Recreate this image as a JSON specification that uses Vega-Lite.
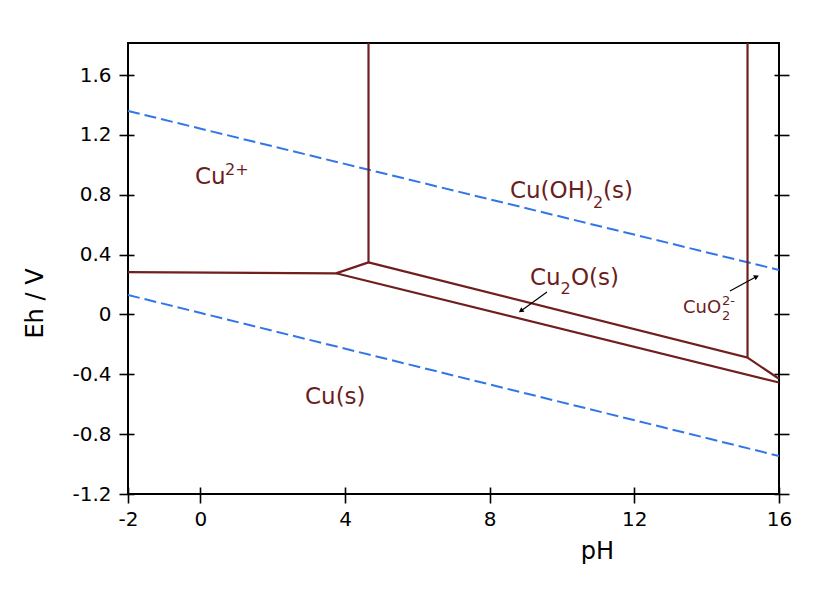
{
  "$schema": "https://vega.github.io/schema/vega-lite/v6.json",
  "width": 651,
  "height": 451,
  "autosize": "none",
  "padding": {"left": 128, "top": 43, "right": 61, "bottom": 105},
  "background": "white",
  "config": {
    "view": {"stroke": "black", "strokeWidth": 2},
    "axis": {
      "labelFont": "DejaVu Sans",
      "labelFontSize": 20,
      "labelColor": "black",
      "tickColor": "black",
      "tickWidth": 1.6,
      "grid": false,
      "domain": false,
      "labelFlush": false,
      "labelOverlap": false,
      "titleFont": "DejaVu Sans",
      "titleFontSize": 24,
      "titleFontWeight": "normal",
      "titleColor": "black"
    }
  },
  "datasets": {
    "water": [
      {"seg": "O2", "order": 1, "pH": -2, "Eh": 1.36},
      {"seg": "O2", "order": 2, "pH": 16, "Eh": 0.297},
      {"seg": "H2", "order": 1, "pH": -2, "Eh": 0.13},
      {"seg": "H2", "order": 2, "pH": 16, "Eh": -0.946}
    ],
    "boundaries": [
      {"seg": "a", "order": 1, "pH": -2, "Eh": 0.283},
      {"seg": "a", "order": 2, "pH": 3.75, "Eh": 0.275},
      {"seg": "a", "order": 3, "pH": 4.65, "Eh": 0.348},
      {"seg": "a", "order": 4, "pH": 4.65, "Eh": 1.814},
      {"seg": "b", "order": 1, "pH": 4.65, "Eh": 0.348},
      {"seg": "b", "order": 2, "pH": 15.13, "Eh": -0.289},
      {"seg": "b", "order": 3, "pH": 15.13, "Eh": 1.814},
      {"seg": "c", "order": 1, "pH": 15.13, "Eh": -0.289},
      {"seg": "c", "order": 2, "pH": 16, "Eh": -0.43},
      {"seg": "d", "order": 1, "pH": 3.75, "Eh": 0.275},
      {"seg": "d", "order": 2, "pH": 16, "Eh": -0.455}
    ],
    "arrows": [
      {"seg": "cu2o", "order": 1, "pH": 9.584, "Eh": 0.15},
      {"seg": "cu2o", "order": 2, "pH": 8.9, "Eh": 0.03},
      {"seg": "cuo2", "order": 1, "pH": 14.644, "Eh": 0.156},
      {"seg": "cuo2", "order": 2, "pH": 15.33, "Eh": 0.247}
    ],
    "head1": [{"pH": 8.88, "Eh": 0.027}],
    "head2": [{"pH": 15.36, "Eh": 0.25}],
    "labels": [
      {"label": "Cu", "pH": -0.148, "Eh": 0.872},
      {"label": "Cu(OH)", "pH": 8.561, "Eh": 0.778},
      {"label": "(s)", "pH": 11.133, "Eh": 0.778},
      {"label": "Cu", "pH": 9.114, "Eh": 0.197},
      {"label": "O(s)", "pH": 10.248, "Eh": 0.197},
      {"label": "Cu(s)", "pH": 2.894, "Eh": -0.599}
    ],
    "scripts": [
      {"label": "2+", "pH": 0.682, "Eh": 0.935},
      {"label": "2", "pH": 10.856, "Eh": 0.711},
      {"label": "2", "pH": 9.96, "Eh": 0.134}
    ],
    "small": [
      {"label": "CuO", "pH": 13.344, "Eh": 0.009}
    ],
    "smallScripts": [
      {"label": "2", "pH": 14.422, "Eh": -0.04},
      {"label": "2-", "pH": 14.422, "Eh": 0.062}
    ]
  },
  "resolve": {"axis": {"y": "independent"}},
  "layer": [
    {
      "data": {"name": "water"},
      "mark": {"type": "line", "color": "#3176e8", "strokeWidth": 2, "strokeDash": [12, 5]},
      "encoding": {
        "x": {
          "field": "pH", "type": "quantitative",
          "scale": {"domain": [-2, 16], "nice": false, "zero": false},
          "axis": {
            "orient": "bottom", "values": [-2, 0, 4, 8, 12, 16],
            "offset": -7, "tickSize": 16, "labelPadding": 6,
            "labelExpr": "datum.value + ''",
            "title": "pH", "titleX": 469, "titleY": 64,
            "titleAlign": "center", "titleBaseline": "middle"
          }
        },
        "y": {
          "field": "Eh", "type": "quantitative",
          "scale": {"domain": [-1.2, 1.814], "nice": false, "zero": false},
          "axis": {
            "orient": "left", "values": [-1.2, -0.8, -0.4, 0, 0.4, 0.8, 1.2, 1.6],
            "offset": -6, "tickSize": 15, "labelPadding": 8,
            "labelExpr": "datum.value + ''",
            "title": "Eh / V", "titleAngle": -90, "titleX": -99, "titleY": 260,
            "titleAlign": "center", "titleBaseline": "middle"
          }
        },
        "detail": {"field": "seg"},
        "order": {"field": "order"}
      }
    },
    {
      "data": {"name": "boundaries"},
      "mark": {"type": "line", "color": "#701e1e", "strokeWidth": 2.2},
      "encoding": {
        "x": {"field": "pH", "type": "quantitative"},
        "y": {
          "field": "Eh", "type": "quantitative",
          "axis": {
            "orient": "right", "values": [-1.2, -0.8, -0.4, 0, 0.4, 0.8, 1.2, 1.6],
            "offset": -5, "tickSize": 15, "labels": false, "title": null
          }
        },
        "detail": {"field": "seg"},
        "order": {"field": "order"}
      }
    },
    {
      "data": {"name": "arrows"},
      "mark": {"type": "line", "color": "black", "strokeWidth": 1.2},
      "encoding": {
        "x": {"field": "pH", "type": "quantitative"},
        "y": {"field": "Eh", "type": "quantitative", "axis": null},
        "detail": {"field": "seg"},
        "order": {"field": "order"}
      }
    },
    {
      "data": {"name": "head1"},
      "mark": {"type": "point", "shape": "triangle", "filled": true, "color": "black", "size": 32, "angle": 235, "opacity": 1},
      "encoding": {
        "x": {"field": "pH", "type": "quantitative"},
        "y": {"field": "Eh", "type": "quantitative", "axis": null}
      }
    },
    {
      "data": {"name": "head2"},
      "mark": {"type": "point", "shape": "triangle", "filled": true, "color": "black", "size": 32, "angle": 62, "opacity": 1},
      "encoding": {
        "x": {"field": "pH", "type": "quantitative"},
        "y": {"field": "Eh", "type": "quantitative", "axis": null}
      }
    },
    {
      "data": {"name": "labels"},
      "mark": {"type": "text", "font": "DejaVu Sans", "fontSize": 23, "color": "#6b1d1d", "align": "left", "baseline": "alphabetic"},
      "encoding": {
        "x": {"field": "pH", "type": "quantitative"},
        "y": {"field": "Eh", "type": "quantitative", "axis": null},
        "text": {"field": "label"}
      }
    },
    {
      "data": {"name": "scripts"},
      "mark": {"type": "text", "font": "DejaVu Sans", "fontSize": 16, "color": "#6b1d1d", "align": "left", "baseline": "alphabetic"},
      "encoding": {
        "x": {"field": "pH", "type": "quantitative"},
        "y": {"field": "Eh", "type": "quantitative", "axis": null},
        "text": {"field": "label"}
      }
    },
    {
      "data": {"name": "small"},
      "mark": {"type": "text", "font": "DejaVu Sans", "fontSize": 18, "color": "#6b1d1d", "align": "left", "baseline": "alphabetic"},
      "encoding": {
        "x": {"field": "pH", "type": "quantitative"},
        "y": {"field": "Eh", "type": "quantitative", "axis": null},
        "text": {"field": "label"}
      }
    },
    {
      "data": {"name": "smallScripts"},
      "mark": {"type": "text", "font": "DejaVu Sans", "fontSize": 13, "color": "#6b1d1d", "align": "left", "baseline": "alphabetic"},
      "encoding": {
        "x": {"field": "pH", "type": "quantitative"},
        "y": {"field": "Eh", "type": "quantitative", "axis": null},
        "text": {"field": "label"}
      }
    }
  ]
}
